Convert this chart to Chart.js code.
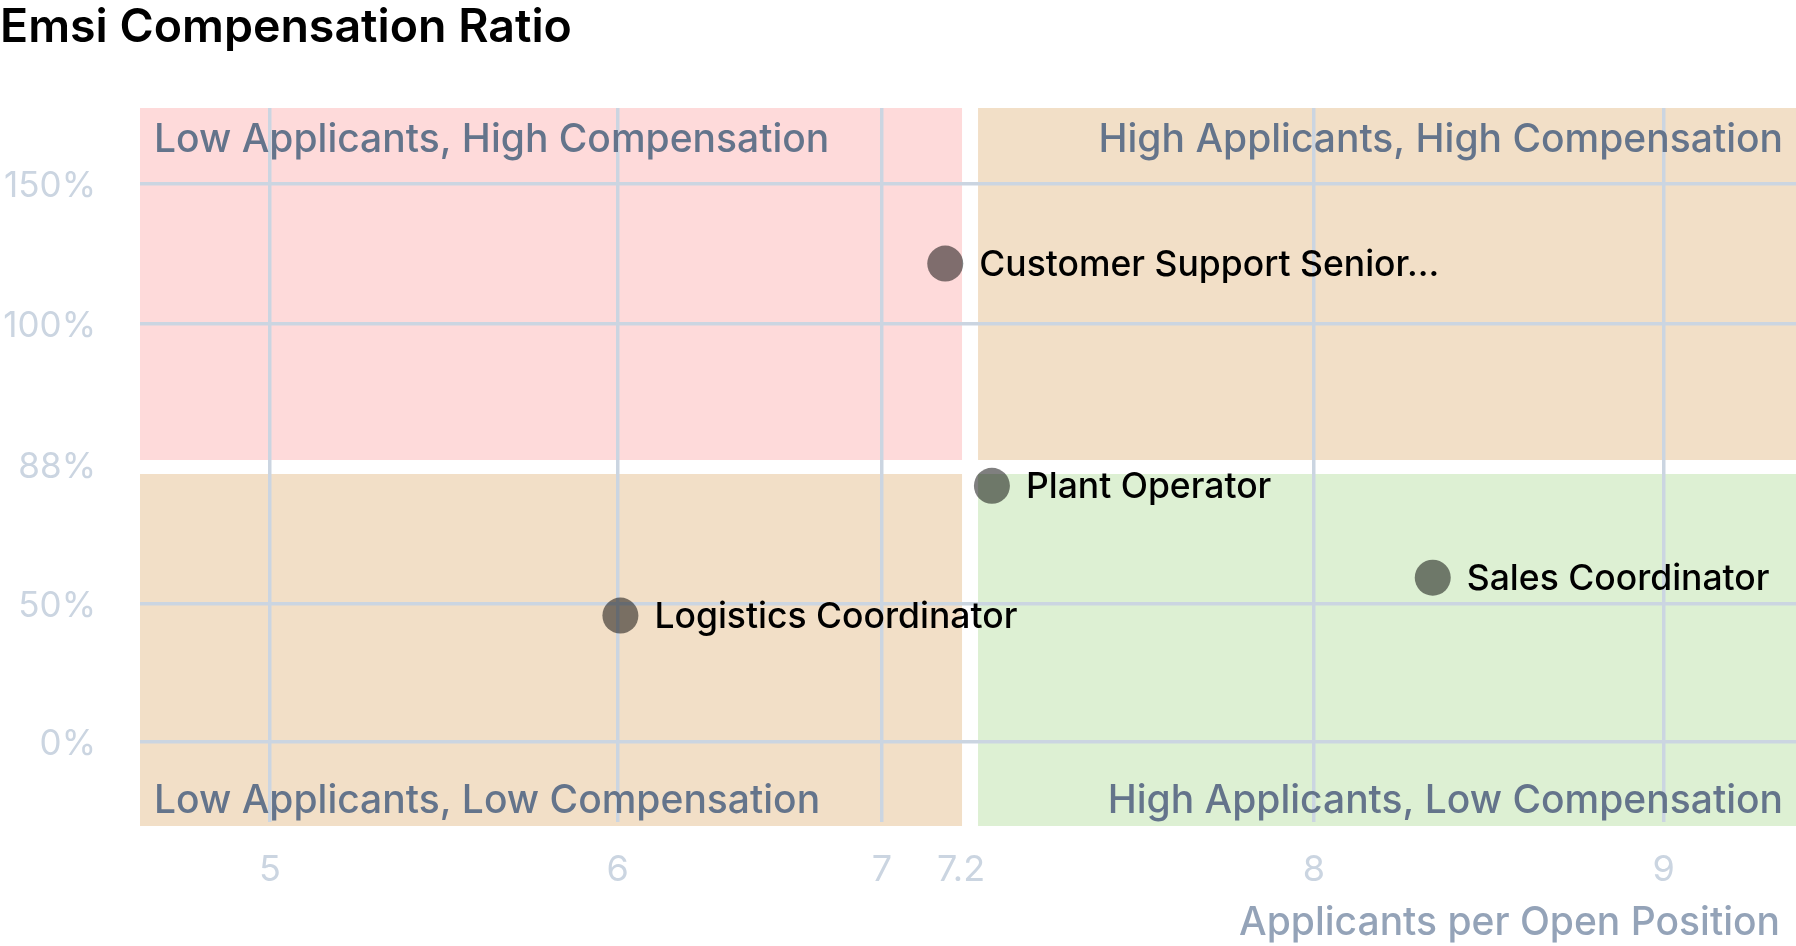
<!DOCTYPE html>
<html>
<head>
<meta charset="utf-8">
<title>Emsi Compensation Ratio</title>
<script src="https://cdn.jsdelivr.net/npm/chart.js@4.4.1/dist/chart.umd.min.js"></script>
<style>
  html, body { margin: 0; padding: 0; background: #fff; }
  #chart { display: block; }
</style>
</head>
<body>
<canvas id="chart" width="1796" height="946"></canvas>
<script>
// data
const jobTitles = ["Customer Support Senior...", "Plant Operator", "Sales Coordinator", "Logistics Coordinator"]
const applicantsPerOpening = [7.16, 7.27, 8.34, 6.01]
const compensationRatio = [121.5, 82.3, 57.2, 45.8]

const applicantTicks = [5, 6, 7, 7.2, 8, 9]
const compensationTicks = [0, 50, 88, 100, 150]

// quadrant split values
const applicantSplit = 7.2
const compensationSplit = 88

const quadrantNames = [
    "Low Applicants, High Compensation",
    "High Applicants, High Compensation",
    "Low Applicants, Low Compensation",
    "High Applicants, Low Compensation",
]

// where each tick sits along its axis (0 = start, 1 = end), the axes are not linear
const applicantTickSpots = [0.0785, 0.2885, 0.4481, 0.4958, 0.7088, 0.9201]
const compensationTickSpots = [0.112, 0.3053, 0.5, 0.6979, 0.8936]

const fontFamily = "Inter, 'Noto Sans', sans-serif"

// piecewise scale: straight segments between the ticks
class SpotScale extends Chart.LinearScale {
    static id = 'spot'
    static defaults = {}

    buildTicks() {
        return this.options.knots.map(value => ({ value }))
    }

    toDecimal(value) {
        const knots = this.options.knots
        const spots = this.options.spots
        let i = 1
        while (i < knots.length - 1 && value > knots[i]) i++
        return spots[i - 1] + (value - knots[i - 1]) * (spots[i] - spots[i - 1]) / (knots[i] - knots[i - 1])
    }

    getPixelForValue(value) {
        return this.getPixelForDecimal(this.toDecimal(value))
    }

    getValueForPixel(pixel) {
        const knots = this.options.knots
        const spots = this.options.spots
        const d = this.getDecimalForPixel(pixel)
        let i = 1
        while (i < spots.length - 1 && d > spots[i]) i++
        return knots[i - 1] + (d - spots[i - 1]) * (knots[i] - knots[i - 1]) / (spots[i] - spots[i - 1])
    }
}
Chart.register(SpotScale)

const quadrantPlugin = {
    id: 'quadrants',
    beforeDraw(chart) {
        const { ctx, chartArea } = chart
        const xs = chart.scales.x.getPixelForValue(applicantSplit)
        const ys = chart.scales.y.getPixelForValue(compensationSplit)
        const top = chartArea.top
        const bottom = chartArea.bottom + 4
        const left = chartArea.left
        const right = chartArea.right
        ctx.save()
        ctx.fillStyle = '#FEDADA'
        ctx.fillRect(left, top, xs + 1 - left, ys - 5 - top)
        ctx.fillStyle = '#F2DFC7'
        ctx.fillRect(xs + 17, top, right - xs - 17, ys - 5 - top)
        ctx.fillRect(left, ys + 9, xs + 1 - left, bottom - ys - 9)
        ctx.fillStyle = '#DDF0D3'
        ctx.fillRect(xs + 17, ys + 9, right - xs - 17, bottom - ys - 9)
        ctx.restore()
    },
    beforeDatasetsDraw(chart) {
        const { ctx, chartArea } = chart
        ctx.save()
        ctx.font = `500 39px ${fontFamily}`
        ctx.fillStyle = '#64748B'
        ctx.textBaseline = 'alphabetic'
        ctx.textAlign = 'left'
        ctx.fillText(quadrantNames[0], chartArea.left + 14, chartArea.top + 44)
        ctx.fillText(quadrantNames[2], chartArea.left + 14, chartArea.bottom - 9)
        ctx.textAlign = 'right'
        ctx.fillText(quadrantNames[1], chartArea.right - 13, chartArea.top + 44)
        ctx.fillText(quadrantNames[3], chartArea.right - 13, chartArea.bottom - 9)

        // axis title
        ctx.font = `500 39px ${fontFamily}`
        ctx.fillStyle = '#94A3B8'
        ctx.fillText("Applicants per Open Position", chartArea.right - 16, chart.height - 11)
        ctx.restore()
    },
    afterDatasetsDraw(chart) {
        const { ctx } = chart
        const meta = chart.getDatasetMeta(0)
        ctx.save()
        ctx.font = `500 35.5px ${fontFamily}`
        ctx.fillStyle = '#000'
        ctx.textAlign = 'left'
        ctx.textBaseline = 'middle'
        meta.data.forEach((point, i) => {
            ctx.fillText(jobTitles[i], point.x + 34, point.y + 1.5)
        })
        ctx.restore()
    }
}

const points = applicantsPerOpening.map((x, i) => ({ x: x, y: compensationRatio[i] }))

const hiddenGrid = (split) => (c) => c.tick && c.tick.value === split ? 'rgba(0,0,0,0)' : '#CBD5E1'

new Chart(document.getElementById('chart'), {
    type: 'scatter',
    data: {
        datasets: [{
            label: 'Jobs',
            data: points,
            backgroundColor: 'rgba(0,0,0,0.5)',
            borderWidth: 0,
            pointRadius: 18,
            pointHoverRadius: 18,
        }]
    },
    options: {
        responsive: false,
        devicePixelRatio: 1,
        animation: false,
        layout: { padding: 0, autoPadding: false },
        plugins: {
            legend: { display: false },
            tooltip: { enabled: false },
            title: {
                display: true,
                text: 'Emsi Compensation Ratio',
                align: 'start',
                color: '#000',
                font: { family: fontFamily, size: 46.5, weight: 600, lineHeight: 1.2 },
                padding: { top: 0, bottom: 52.2 },
            },
        },
        scales: {
            x: {
                type: 'spot',
                position: 'bottom',
                knots: applicantTicks,
                spots: applicantTickSpots,
                grid: { color: hiddenGrid(applicantSplit), lineWidth: 3.5, drawTicks: false },
                border: { display: false },
                ticks: {
                    color: '#CBD5E1',
                    font: { family: fontFamily, size: 36, lineHeight: 1.2 },
                    padding: 26.5,
                    maxRotation: 0,
                    autoSkip: false,
                    callback: (v) => String(v),
                },
                afterFit: (scale) => { scale.height = 124 },
            },
            y: {
                type: 'spot',
                position: 'left',
                knots: compensationTicks,
                spots: compensationTickSpots,
                grid: { color: hiddenGrid(compensationSplit), lineWidth: 3.5, drawTicks: false },
                border: { display: false },
                ticks: {
                    color: '#CBD5E1',
                    font: { family: fontFamily, size: 35, lineHeight: 1.2 },
                    padding: 44,
                    labelOffset: 2.5,
                    autoSkip: false,
                    callback: (v) => v + '%',
                },
                afterFit: (scale) => { scale.width = 140 },
            },
        },
    },
    plugins: [quadrantPlugin],
})
</script>
</body>
</html>
